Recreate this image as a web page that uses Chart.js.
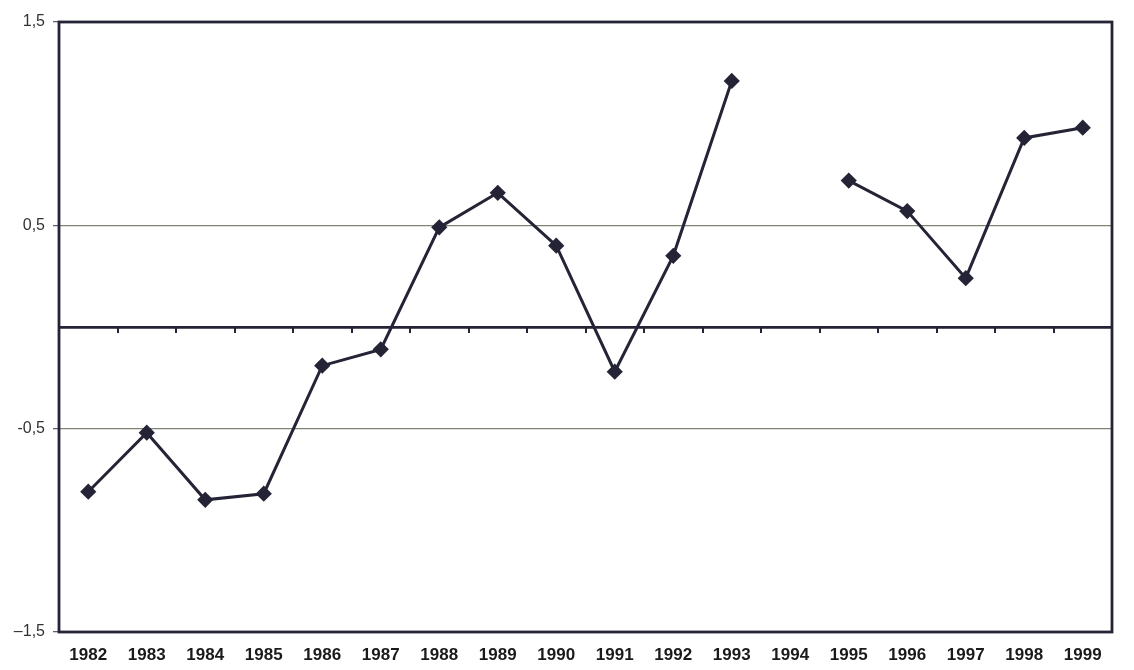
<!DOCTYPE html>
<html>
<head>
<meta charset="utf-8">
<script src="https://cdn.jsdelivr.net/npm/chart.js@4/dist/chart.umd.min.js"></script>
<style>
  html, body { margin: 0; padding: 0; background: #ffffff; }
  #wrap { width: 1134px; height: 670px; position: relative; }
</style>
</head>
<body>
<div id="wrap"><canvas id="c" width="1134" height="670"></canvas></div>
<script>
// Years on the horizontal axis
const years = ['1982','1983','1984','1985','1986','1987','1988','1989','1990',
               '1991','1992','1993','1994','1995','1996','1997','1998','1999'];
// Annual index values (no value for 1994)
const values = [-0.81, -0.52, -0.85, -0.82, -0.19, -0.11, 0.49, 0.66, 0.40,
                -0.22, 0.35, 1.21, null, 0.72, 0.57, 0.24, 0.93, 0.98];
// Labelled vertical ticks and their printed text
const yTickValues = [-1.5, -0.5, 0.5, 1.5];
const yTickText = ['–1,5', '-0,5', '0,5', '1,5'];

const ink = '#242436';

const isLabelled = v => yTickValues.some(t => Math.abs(t - v) < 1e-6);

// Frame around the plot and small tick marks along the zero line
const framePlugin = {
  id: 'frame',
  beforeDatasetsDraw(chart) {
    const { ctx, scales: { x, y } } = chart;
    const y0 = y.getPixelForValue(0);
    ctx.save();
    ctx.strokeStyle = ink;
    ctx.lineWidth = 2;
    for (let i = 1; i < years.length; i++) {
      const px = Math.round((x.getPixelForValue(i - 1) + x.getPixelForValue(i)) / 2);
      ctx.beginPath();
      ctx.moveTo(px, y0);
      ctx.lineTo(px, y0 + 6);
      ctx.stroke();
    }
    ctx.restore();
  },
  afterDraw(chart) {
    const { ctx, chartArea: a } = chart;
    ctx.save();
    ctx.strokeStyle = ink;
    ctx.lineWidth = 2.8;
    ctx.strokeRect(a.left, a.top, a.right - a.left, a.bottom - a.top);
    ctx.restore();
  }
};

new Chart(document.getElementById('c'), {
  type: 'line',
  data: {
    labels: years,
    datasets: [{
      data: values,
      borderColor: ink,
      backgroundColor: ink,
      borderWidth: 3,
      pointStyle: 'rectRot',
      pointRadius: 6,
      pointBackgroundColor: ink,
      pointBorderColor: ink,
      spanGaps: false,
      tension: 0
    }]
  },
  options: {
    responsive: false,
    animation: false,
    devicePixelRatio: 1,
    layout: { padding: { top: 22, right: 22, left: 0, bottom: 0 } },
    plugins: { legend: { display: false }, tooltip: { enabled: false } },
    scales: {
      x: {
        type: 'category',
        offset: true,
        grid: { display: false },
        border: { display: false },
        ticks: {
          color: '#1a1a1a',
          font: { family: 'Liberation Sans, Arial, sans-serif', size: 17, weight: 'bold' },
          padding: 5,
          maxRotation: 0,
          autoSkip: false
        },
        afterFit(scale) { scale.height = 38; }
      },
      y: {
        min: -1.5,
        max: 1.5,
        border: { display: false },
        afterBuildTicks(scale) {
          scale.ticks = [-1.5, -1, -0.5, 0, 0.5, 1, 1.5].map(v => ({ value: v }));
        },
        ticks: {
          color: '#333333',
          font: { family: 'Liberation Sans, Arial, sans-serif', size: 16 },
          padding: 8,
          callback(v) {
            const i = yTickValues.findIndex(t => Math.abs(t - v) < 1e-6);
            return i >= 0 ? yTickText[i] : '';
          }
        },
        grid: {
          drawTicks: true,
          tickLength: 6,
          tickWidth: 1.2,
          tickColor: c => isLabelled(c.tick.value) ? '#555566' : 'rgba(0,0,0,0)',
          color: c => {
            const v = c.tick.value;
            if (Math.abs(v) < 1e-6) return ink;
            if (Math.abs(Math.abs(v) - 0.5) < 1e-6) return '#7d8470';
            return 'rgba(0,0,0,0)';
          },
          lineWidth: c => Math.abs(c.tick.value) < 1e-6 ? 2.8 : 1.3
        },
        afterFit(scale) { scale.width = 59; }
      }
    }
  },
  plugins: [framePlugin]
});
</script>
</body>
</html>
